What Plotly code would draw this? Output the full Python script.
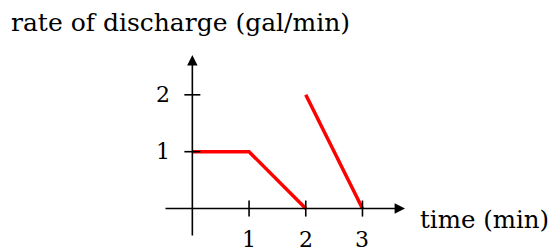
import plotly.graph_objects as go

# data
time_vals = [0, 1, 2, None, 2, 3]
rate_vals = [1, 1, 0, None, 2, 0]
x_ticks = [1, 2, 3]
y_ticks = [1, 2]
x_tick_labels = ["1", "2", "3"]
y_tick_labels = ["1", "2"]
y_title = "rate of discharge (gal/min)"
x_title = "time (min)"

FONT = "DejaVu Serif"
W, H = 556, 251
OFF = 8  # page body margin
unit = 56.7
x0_px, y0_px = 192.8 - OFF, 208.3 - OFF
xr = [-0.5, 3.75]
yr = [-0.5, 2.7]
left = x0_px + xr[0] * unit
right = x0_px + xr[1] * unit
top = y0_px - yr[1] * unit
bottom = y0_px - yr[0] * unit


def px(xp):
    return (xp - OFF - left) / (right - left)


def py(yp):
    return (bottom - (yp - OFF)) / (bottom - top)


fig = go.Figure()
fig.add_trace(go.Scatter(x=time_vals, y=rate_vals, mode="lines",
                         line=dict(color="#ff0000", width=3.5),
                         connectgaps=False, hoverinfo="skip", cliponaxis=False))

shapes = []
tl = 8 / unit
for t in x_ticks:
    shapes.append(dict(type="line", xref="x", yref="y", x0=t, x1=t, y0=-tl, y1=tl,
                       line=dict(color="black", width=1.6)))
for t in y_ticks:
    shapes.append(dict(type="line", xref="x", yref="y", x0=-tl, x1=tl, y0=t, y1=t,
                       line=dict(color="black", width=1.6)))

ann = []
ann.append(dict(x=xr[1], y=0, ax=xr[0], ay=0, xref="x", yref="y", axref="x", ayref="y",
                showarrow=True, arrowhead=2, arrowsize=1.3, arrowwidth=1.6,
                arrowcolor="black", standoff=0, startstandoff=0, text=""))
ann.append(dict(x=0, y=yr[1], ax=0, ay=yr[0], xref="x", yref="y", axref="x", ayref="y",
                showarrow=True, arrowhead=2, arrowsize=1.3, arrowwidth=1.6,
                arrowcolor="black", standoff=0, startstandoff=0, text=""))
for t, lab in zip(x_ticks, x_tick_labels):
    ann.append(dict(x=t, y=0, xref="x", yref="y", text=lab, showarrow=False,
                    xanchor="center", yanchor="middle", yshift=-31,
                    font=dict(family=FONT, size=22, color="black")))
for t, lab in zip(y_ticks, y_tick_labels):
    ann.append(dict(x=0, y=t, xref="x", yref="y", text=lab, showarrow=False,
                    xanchor="center", yanchor="middle", xshift=-29,
                    font=dict(family=FONT, size=22, color="black")))
ann.append(dict(x=px(9), y=py(23), xref="paper", yref="paper",
                text=y_title, showarrow=False, xanchor="left", yanchor="middle",
                font=dict(family=FONT, size=25, color="black")))
ann.append(dict(x=px(418), y=py(219), xref="paper", yref="paper", text=x_title,
                showarrow=False, xanchor="left", yanchor="middle",
                font=dict(family=FONT, size=24.5, color="black")))

fig.update_layout(
    width=W, height=H,
    margin=dict(l=left, r=W - right, t=top, b=H - bottom, pad=0),
    paper_bgcolor="white", plot_bgcolor="white",
    showlegend=False,
    xaxis=dict(range=xr, visible=False, fixedrange=True),
    yaxis=dict(range=yr, visible=False, fixedrange=True),
    shapes=shapes, annotations=ann,
)
fig.write_html("out.html")
